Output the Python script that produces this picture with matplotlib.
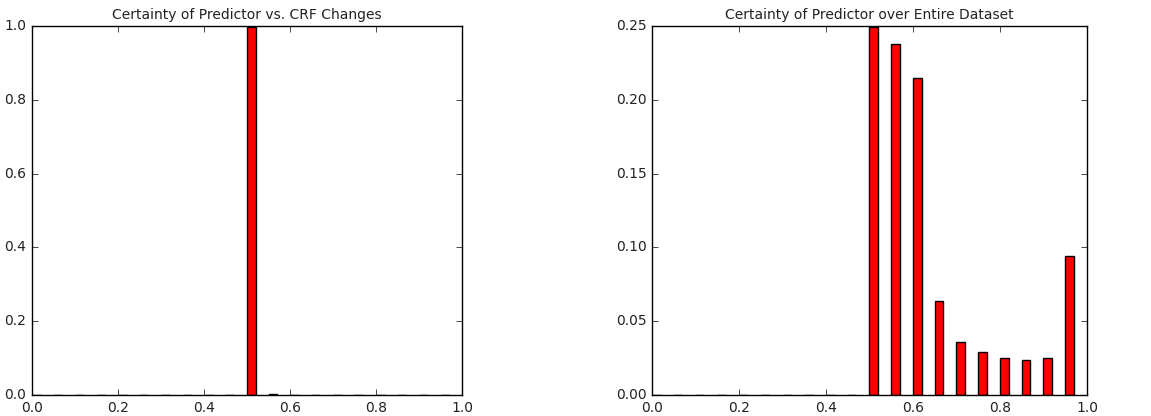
import numpy as np
import matplotlib
matplotlib.use("Agg")
import matplotlib.pyplot as plt

plt.style.use('classic')

# histogram bins (left edges) and normalised counts
bins = np.arange(0, 1.0, 0.05)
crf_changes = [0, 0, 0, 0, 0, 0, 0, 0, 0, 0,
               0.997, 0.003, 0, 0, 0, 0, 0, 0, 0, 0]
entire_dataset = [0, 0, 0, 0, 0, 0, 0, 0, 0, 0,
                  0.2495, 0.238, 0.215, 0.064, 0.036, 0.029, 0.025, 0.0235, 0.025, 0.094]

fig = plt.figure(figsize=(11.51, 4.16), dpi=100)
fig.patch.set_facecolor('white')

ax1 = fig.add_axes([32/1151, 1-395/416, 430/1151, 369/416])
ax1.bar(bins, crf_changes, width=0.02, align='edge', color='red', edgecolor='black')
ax1.set_xlim(0, 1)
ax1.set_ylim(0, 1)
ax1.set_title('Certainty of Predictor vs. CRF Changes', fontsize=10, color='#222222')
ax1.tick_params(labelsize=10, labelcolor='#222222')

ax2 = fig.add_axes([652/1151, 1-395/416, 435/1151, 369/416])
ax2.bar(bins, entire_dataset, width=0.02, align='edge', color='red', edgecolor='black')
ax2.set_xlim(0, 1)
ax2.set_ylim(0, 0.25)
ax2.set_title('Certainty of Predictor over Entire Dataset', fontsize=10, color='#222222')
ax2.tick_params(labelsize=10, labelcolor='#222222')

fig.savefig('out.png', dpi=100, facecolor='white')
